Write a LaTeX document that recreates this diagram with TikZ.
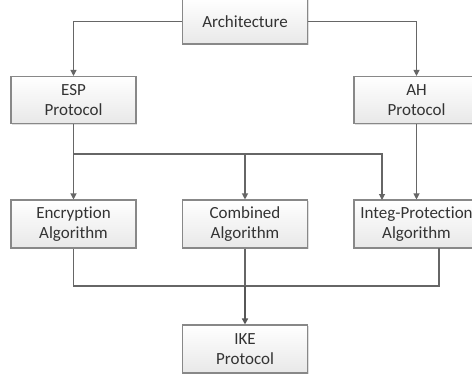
\documentclass[tikz,border=0pt]{standalone}
\usepackage{fontspec}
\setmainfont[Ligatures=NoCommon]{Carlito}
\usetikzlibrary{arrows.meta,shadows}
\definecolor{linec}{HTML}{666666}
\definecolor{boxline}{HTML}{888888}
\definecolor{txt}{HTML}{333333}
\tikzset{
  blk/.style={draw=boxline, line width=1.1pt, top color=white, bottom color=black!9,
    minimum width=125pt, minimum height=47pt, inner sep=0pt, align=center,
    text=txt, font=\fontsize{17}{20}\selectfont,
    drop shadow={shadow xshift=1.2pt, shadow yshift=-1.2pt, opacity=0.25}},
  conn/.style={draw=linec, line width=1.1pt},
  arr/.style={conn, -{Triangle[length=6pt,width=6pt]}},
}
\begin{document}
\begin{tikzpicture}[x=1pt,y=-1pt]
\useasboundingbox (0,0) rectangle (472,376);
\clip (0,0) rectangle (472,376);
\node[blk, minimum height=45pt] (arch) at (245,21.5) {Architecture};
\node[blk] (esp) at (73.5,100) {ESP\\Protocol};
\node[blk] (ah) at (416.5,100) {AH\\Protocol};
\node[blk, minimum height=48pt] (enc) at (73.5,224) {Encryption\\Algorithm};
\node[blk, minimum height=48pt] (comb) at (245,224) {Combined\\Algorithm};
\node[blk, minimum height=48pt] (integ) at (416.5,224) {Integ-Protection\\Algorithm};
\node[blk, minimum height=48pt] (ike) at (245,349) {IKE\\Protocol};
\coordinate (j1) at (73.5,154);
\coordinate (ti) at (382,200);
\coordinate (j2) at (73.5,286);
\coordinate (bi) at (439,248);
\draw[arr] (arch.west) -| (esp.north);
\draw[arr] (arch.east) -| (ah.north);
\draw[arr] (esp.south) -- (enc.north);
\draw[arr] (j1) -| (ti);
\draw[arr] (comb.north |- j1) -- (comb.north);
\draw[arr] (ah.south) -- (integ.north);
\draw[conn] (enc.south) |- (bi |- j2) -- (bi);
\draw[conn] (comb.south) -- (comb.south |- j2);
\draw[arr, line width=1.6pt, draw=linec!85!black] (comb.south |- j2) -- (ike.north);
\end{tikzpicture}
\end{document}
